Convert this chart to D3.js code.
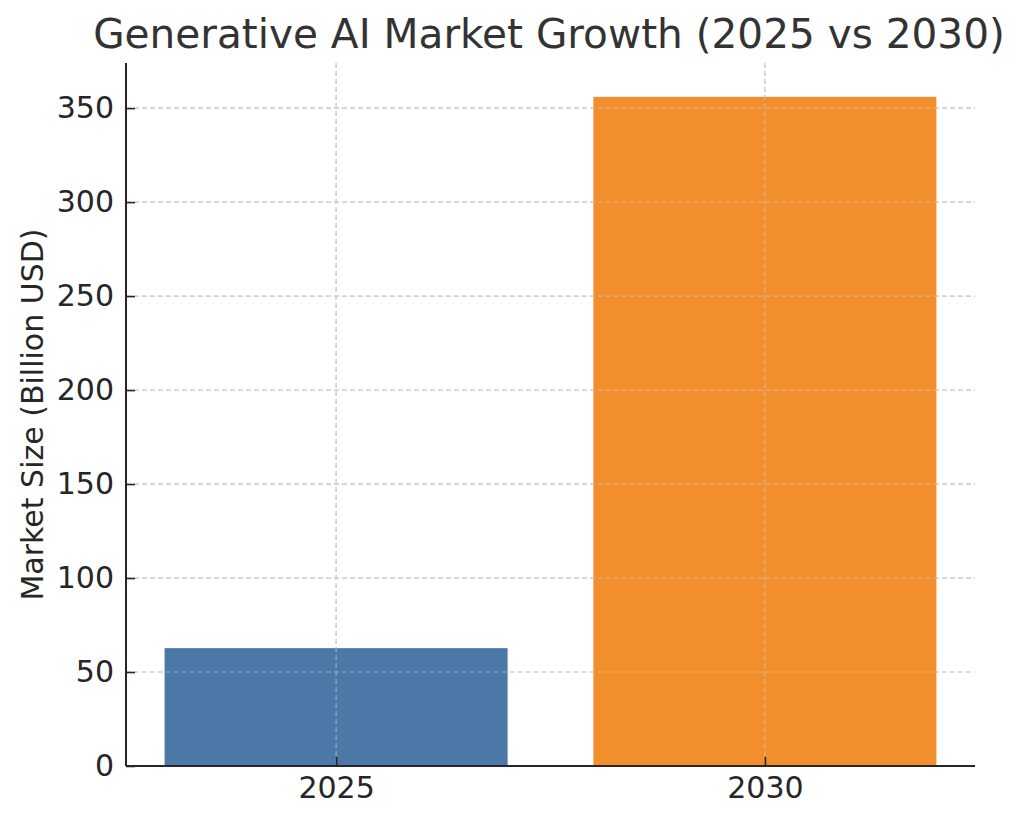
<!DOCTYPE html>
<html><head><meta charset="utf-8">
<script src="https://cdn.jsdelivr.net/npm/d3@7"></script>
<style>body{margin:0;background:#fff}svg{display:block}text{font-family:"DejaVu Sans",sans-serif;fill:#262626}</style>
</head><body>
<script>
const categories = ["2025", "2030"];
const values = [62.7, 356];
const colors = ["#4C78A8", "#F28E2B"];
const yTicks = [0, 50, 100, 150, 200, 250, 300, 350];
const title = "Generative AI Market Growth (2025 vs 2030)";
const yLabel = "Market Size (Billion USD)";

const W = 1024, H = 824;
const m = {left:126, right:1024-975, top:63, bottom:824-766};
const svg = d3.select("body").append("svg").attr("width", W).attr("height", H);

const x = d3.scaleLinear().domain([-0.49, categories.length - 1 + 0.49]).range([m.left, W - m.right]);
const y = d3.scaleLinear().domain([0, 374]).range([H - m.bottom, m.top]);

function drawGrid(g, ticks) {
  g.selectAll("line.h").data(ticks).join("line").attr("class", "h")
    .attr("x1", m.left).attr("x2", W - m.right)
    .attr("y1", d => y(d)).attr("y2", d => y(d))
    .attr("stroke", "#cccccc").attr("stroke-width", 1.2).attr("stroke-dasharray", "5,3");
  g.selectAll("line.v").data(categories).join("line").attr("class", "v")
    .attr("x1", (d,i) => x(i)).attr("x2", (d,i) => x(i))
    .attr("y1", m.top).attr("y2", H - m.bottom)
    .attr("stroke", "#cccccc").attr("stroke-width", 1.2).attr("stroke-dasharray", "5,3");
}
drawGrid(svg.append("g"), yTicks);

// bars
svg.append("g").selectAll("rect").data(values).join("rect")
  .attr("x", (d,i) => x(i - 0.4))
  .attr("width", (d,i) => x(i + 0.4) - x(i - 0.4))
  .attr("y", d => y(d))
  .attr("height", d => y(0) - y(d))
  .attr("fill", (d,i) => colors[i]);

drawGrid(svg.append("g").attr("opacity", 0.6), yTicks.filter(t => t > 0));

// axes (ticks point inward)
const yAxis = svg.append("g").attr("transform", `translate(${m.left},0)`)
  .call(d3.axisLeft(y).tickValues(yTicks).tickSize(-9).tickPadding(12));
const xAxis = svg.append("g").attr("transform", `translate(0,${H - m.bottom})`)
  .call(d3.axisBottom(x).tickValues(categories.map((d,i)=>i)).tickFormat(i => categories[i]).tickSize(-9).tickPadding(11));
[yAxis, xAxis].forEach(a => {
  a.select(".domain").attr("stroke", "#262626").attr("stroke-width", 2);
  a.selectAll(".tick line").attr("stroke", "#262626").attr("stroke-width", 1.6);
  a.selectAll(".tick text").attr("font-size", 30).attr("fill", "#262626").style("font-family", '"DejaVu Sans",sans-serif');
});
yAxis.select(".domain").attr("d", `M0,${m.top}V${H - m.bottom}`);
xAxis.select(".domain").attr("d", `M${m.left},0H${W - m.right}`);

svg.append("text").attr("x", 549).attr("y", 48)
  .attr("text-anchor", "middle").attr("font-size", 40.6).style("fill", "#333333").text(title);
svg.append("text").attr("transform", `translate(43,${(m.top + H - m.bottom)/2}) rotate(-90)`)
  .attr("text-anchor", "middle").attr("font-size", 30).text(yLabel);
</script>
</body></html>
